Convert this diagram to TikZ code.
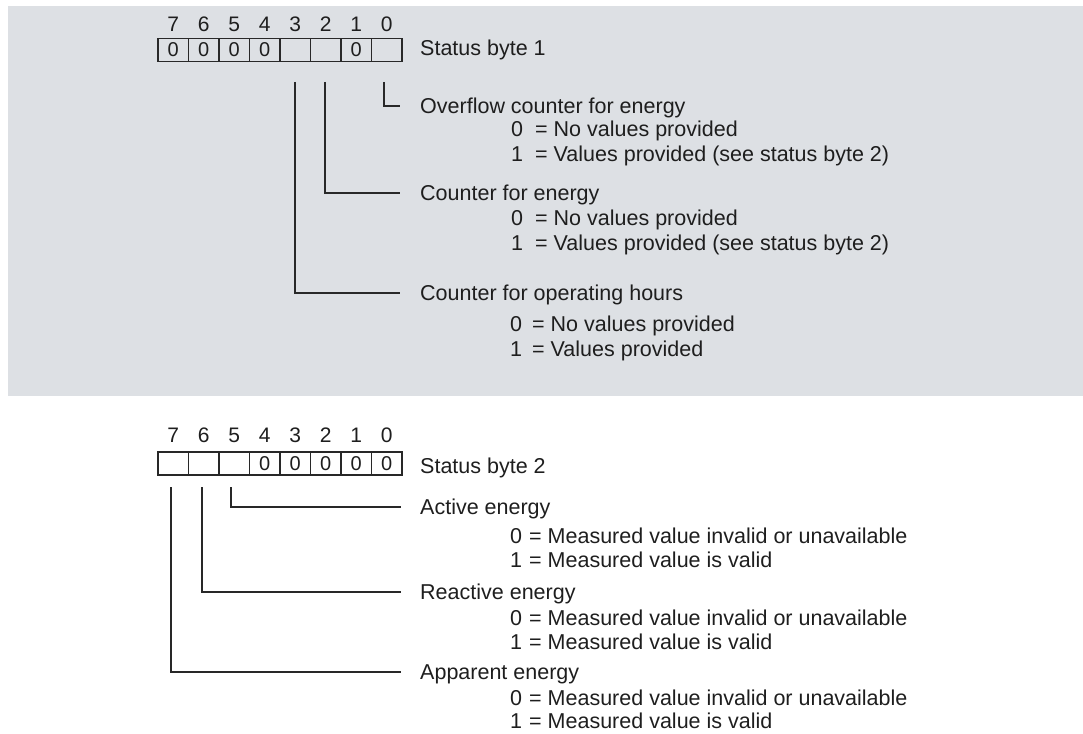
\documentclass[tikz,border=0pt]{standalone}
\usepackage{fontspec}
\setmainfont{Liberation Sans}
\definecolor{panelgray}{RGB}{221,224,228}
\definecolor{ink}{RGB}{30,30,30}
\definecolor{lineink}{RGB}{40,40,40}
\tikzset{
  cell/.style={draw=lineink, line width=1.1pt, minimum width=30.5pt, minimum height=23pt, inner sep=0pt, outer sep=0pt, text=ink, font=\fontsize{20pt}{22pt}\selectfont},
  bitnum/.style={anchor=base, inner sep=0pt, text=ink, font=\fontsize{21pt}{24pt}\selectfont},
  txt/.style={anchor=base west, inner sep=0pt, text=ink, font=\fontsize{21.5pt}{24pt}\selectfont},
  title/.style={anchor=west, inner sep=0pt, text height=15.5pt, text depth=0pt, text=ink, font=\fontsize{21.5pt}{24pt}\selectfont},
  conn/.style={draw=lineink, line width=2pt},
}
\begin{document}
\begin{tikzpicture}[x=1pt,y=-1pt]
\useasboundingbox (0,0) rectangle (1083,733);
\fill[panelgray] (8,6) rectangle (1083,396);

% ---------- Status byte 1 ----------
\foreach \i/\v in {7/0,6/0,5/0,4/0,3/,2/,1/0,0/} {
  \node[cell] (a\i) at ({173.25+30.5*(7-\i)}, 50) {\v};
  \node[bitnum] (na\i) at ({173.25+30.5*(7-\i)}, 32) {\i};
}
\node[txt] (sb1) at (420,56) {Status byte 1};

\coordinate (sa0) at (384,82);
\coordinate (sa2) at (325,82);
\coordinate (sa3) at (295,82);

\node[title] (la0) at (420,106) {Overflow counter for energy};
\node[txt] (la0z) at (511,136) {\makebox[24pt][l]{0}= No values provided};
\node[txt] (la0o) at (511,161.5) {\makebox[24pt][l]{1}= Values provided (see status byte 2)};

\node[title] (la2) at (420,193) {Counter for energy};
\node[txt] (la2z) at (511,225.5) {\makebox[24pt][l]{0}= No values provided};
\node[txt] (la2o) at (511,250) {\makebox[24pt][l]{1}= Values provided (see status byte 2)};

\node[title] (la3) at (420,293) {Counter for operating hours};
\node[txt] (la3z) at (510,331) {\makebox[22pt][l]{0}= No values provided};
\node[txt] (la3o) at (510,356) {\makebox[22pt][l]{1}= Values provided};

\draw[conn] (sa0) |- ([xshift=-20pt]la0.west);
\draw[conn] (sa2) |- ([xshift=-20pt]la2.west);
\draw[conn] (sa3) |- ([xshift=-20pt]la3.west);

% ---------- Status byte 2 ----------
\foreach \i/\v in {7/,6/,5/,4/0,3/0,2/0,1/0,0/0} {
  \node[cell] (b\i) at ({173.25+30.5*(7-\i)}, 463.5) {\v};
  \node[bitnum] (nb\i) at ({173.25+30.5*(7-\i)}, 442) {\i};
}
\node[txt] (sb2) at (420,473) {Status byte 2};

\coordinate (sb5) at (231,487);
\coordinate (sb6) at (202,487);
\coordinate (sb7) at (171,487);

\node[title] (lb5) at (420,507) {Active energy};
\node[txt] (lb5z) at (510,543) {\makebox[19pt][l]{0}= Measured value invalid or unavailable};
\node[txt] (lb5o) at (510,567) {\makebox[19pt][l]{1}= Measured value is valid};

\node[title] (lb6) at (420,592) {Reactive energy};
\node[txt] (lb6z) at (510,625) {\makebox[19pt][l]{0}= Measured value invalid or unavailable};
\node[txt] (lb6o) at (510,649) {\makebox[19pt][l]{1}= Measured value is valid};

\node[title] (lb7) at (420,672) {Apparent energy};
\node[txt] (lb7z) at (510,705) {\makebox[19pt][l]{0}= Measured value invalid or unavailable};
\node[txt] (lb7o) at (510,728) {\makebox[19pt][l]{1}= Measured value is valid};

\draw[conn] (sb5) |- ([xshift=-19pt]lb5.west);
\draw[conn] (sb6) |- ([xshift=-19pt]lb6.west);
\draw[conn] (sb7) |- ([xshift=-19pt]lb7.west);
\end{tikzpicture}
\end{document}
